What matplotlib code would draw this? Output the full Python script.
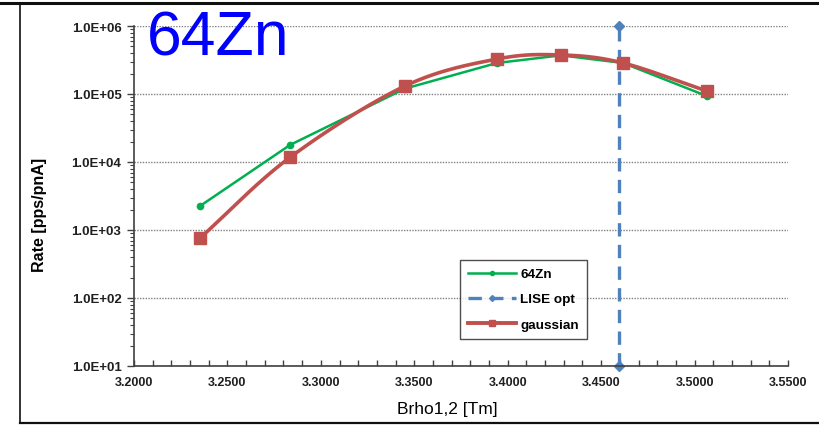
import numpy as np
import matplotlib.pyplot as plt
from matplotlib.lines import Line2D
from matplotlib.ticker import FixedLocator, MultipleLocator, FuncFormatter, LogLocator, NullFormatter

plt.rcParams["font.family"] = ["Liberation Sans", "DejaVu Sans"]

# measured rates vs Brho setting
brho = [3.2353, 3.2835, 3.3450, 3.3943, 3.4285, 3.4617, 3.5067]
rate_64zn = [2250, 17800, 120000, 286000, 370000, 286000, 93000]
rate_gauss = [760, 11700, 131000, 327000, 375000, 286000, 110000]

lise_opt = 3.4596
lise_range = [10, 1e6]

GREEN = "#00B050"
RED = "#C0504D"
BLUE = "#4F81BD"


def smooth(xs, ys, n=30):
    # catmull-rom through the points, done in log10(y) like a log chart
    x = np.asarray(xs, float)
    y = np.log10(np.asarray(ys, float))
    px = np.concatenate([[2 * x[0] - x[1]], x, [2 * x[-1] - x[-2]]])
    py = np.concatenate([[2 * y[0] - y[1]], y, [2 * y[-1] - y[-2]]])
    ox, oy = [], []
    t = np.linspace(0, 1, n)
    for i in range(1, len(px) - 2):
        for p, out in ((px, ox), (py, oy)):
            p0, p1, p2, p3 = p[i - 1], p[i], p[i + 1], p[i + 2]
            out.extend(0.5 * ((2 * p1) + (-p0 + p2) * t
                              + (2 * p0 - 5 * p1 + 4 * p2 - p3) * t ** 2
                              + (-p0 + 3 * p1 - 3 * p2 + p3) * t ** 3))
    return np.array(ox), 10 ** np.array(oy)


fig = plt.figure(figsize=(8.19, 4.27), dpi=100)
ax = fig.add_axes([134 / 819, 1 - 367 / 427, 654 / 819, 340 / 427])

ax.plot(brho, rate_64zn, color=GREEN, lw=1.8, marker="o", ms=4.5, zorder=3)
sx, sy = smooth(brho, rate_gauss)
ax.plot(sx, sy, color=RED, lw=2.6, zorder=4, solid_capstyle="round")
ax.plot(brho, rate_gauss, ls="none", marker="s", ms=8, color=RED, zorder=5)
ax.plot([lise_opt, lise_opt], lise_range, color=BLUE, lw=2.4, ls=(0, (4, 2.5)),
        marker="D", ms=5, zorder=2, clip_on=False)

ax.set_yscale("log")
ax.set_xlim(3.2, 3.55)
ax.set_ylim(10, 1e6)

ax.yaxis.set_major_locator(LogLocator(base=10, numticks=10))
ax.yaxis.set_minor_locator(LogLocator(base=10, subs=np.arange(2, 10), numticks=10))
ax.yaxis.set_minor_formatter(NullFormatter())
ax.yaxis.set_major_formatter(FuncFormatter(lambda v, p: "1.0E+%02d" % round(np.log10(v))))
ax.xaxis.set_major_locator(FixedLocator(np.arange(3.2, 3.5501, 0.05)))
ax.xaxis.set_minor_locator(MultipleLocator(0.01))
ax.xaxis.set_major_formatter(FuncFormatter(lambda v, p: "%.4f" % v))

ax.tick_params(axis="y", which="major", direction="out", length=5, width=1, color="#404040")
ax.tick_params(axis="y", which="minor", direction="out", length=3, width=0.8, color="#404040")
ax.tick_params(axis="x", which="both", direction="in", length=4, width=1, color="#404040")
for lab in ax.get_xticklabels():
    lab.set_fontsize(9)
for lab in ax.get_yticklabels():
    lab.set_fontsize(9.5)
for lab in ax.get_xticklabels() + ax.get_yticklabels():
    lab.set_fontweight("bold")
    lab.set_color("#202020")
ax.tick_params(axis="x", pad=7)
ax.tick_params(axis="y", pad=4)

ax.grid(axis="y", which="major", color="#808080", ls=(0, (1, 1)), lw=1)
for s in ("top", "right"):
    ax.spines[s].set_visible(False)
for s in ("left", "bottom"):
    ax.spines[s].set_color("#404040")
    ax.spines[s].set_linewidth(1.2)

ax.set_xlabel("Brho1,2 [Tm]", fontsize=12.5)
ax.set_ylabel("Rate [pps/pnA]", fontsize=11.5, fontweight="bold")
ax.xaxis.set_label_coords(0.479, -0.104, transform=ax.transAxes)
ax.yaxis.set_label_coords(-0.133, 0.447, transform=ax.transAxes)

handles = [
    Line2D([], [], color=GREEN, lw=1.8, marker="o", ms=3),
    Line2D([], [], color=BLUE, lw=2.4, ls=(0, (4, 2.5)), marker="D", ms=3),
    Line2D([], [], color=RED, lw=2.8, marker="s", ms=4),
]
leg = ax.legend(handles, ["64Zn", "LISE opt", "gaussian"], loc="upper left",
                bbox_to_anchor=(319 / 654, 1 - 227 / 340),
                frameon=True, fancybox=False, edgecolor="#202020",
                handlelength=3.6, handletextpad=0.3, borderpad=0.6,
                labelspacing=0.95, prop={"weight": "bold", "size": 9.7})
leg.get_frame().set_linewidth(1)

fig.text(147 / 819, 1 - 55 / 427, "64Zn", color="#0000FF", fontsize=45, va="baseline")

# surrounding frame
fig.add_artist(Line2D([0, 1], [1 - 4 / 427] * 2, color="#101010", lw=2.2))
fig.add_artist(Line2D([20 / 819] * 2, [1 - 4 / 427, 3 / 427], color="#101010", lw=1.2))
fig.add_artist(Line2D([20 / 819, 1], [3 / 427] * 2, color="#101010", lw=1.6))

fig.savefig("out.png", dpi=100)
